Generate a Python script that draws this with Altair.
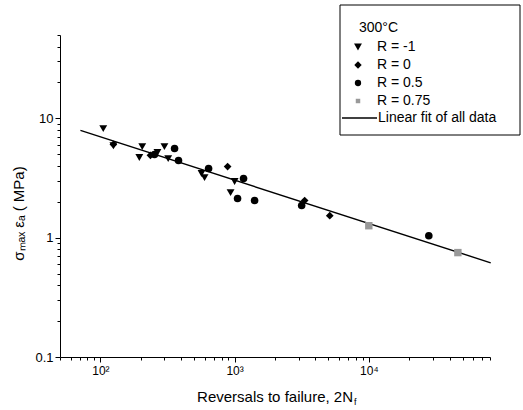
import altair as alt
import pandas as pd

# ---- data ----
series_names = ["R = -1", "R = 0", "R = 0.5", "R = 0.75"]
series_shapes = ["triangle-down", "diamond", "circle", "square"]
series_colors = ["#000000", "#000000", "#000000", "#999999"]
series_sizes = [62, 55, 40, 20]

r_m1_x = [105, 125, 195, 205, 266, 300, 320, 567, 597, 933, 1000]
r_m1_y = [8.2, 5.9, 4.7, 5.8, 5.18, 5.8, 4.6, 3.45, 3.19, 2.39, 2.96]
r_0_x = [125, 236, 887, 3326, 5117]
r_0_y = [6.05, 4.9, 3.95, 2.05, 1.53]
r_05_x = [253, 357, 382, 640, 1052, 1166, 1409, 3160, 28000]
r_05_y = [4.98, 5.6, 4.43, 3.8, 2.13, 3.13, 2.05, 1.86, 1.04]
r_075_x = [10000, 46100]
r_075_y = [1.26, 0.75]

fit_x = [71, 81000]
fit_y = [7.93, 0.616]

legend_title = "300\u00b0C"
fit_label = "Linear fit of all data"

x_ticks = [50, 60, 70, 80, 90, 100, 200, 300, 400, 500, 600, 700, 800, 900,
           1000, 2000, 3000, 4000, 5000, 6000, 7000, 8000, 9000,
           10000, 20000, 30000, 40000, 50000, 60000, 70000, 80000]
y_ticks = [0.1, 0.2, 0.3, 0.4, 0.5, 0.6, 0.7, 0.8, 0.9,
           1, 2, 3, 4, 5, 6, 7, 8, 9, 10, 20, 30, 40, 50]

FONT = "Liberation Sans"

rows = []
for name, xs, ys in zip(series_names, [r_m1_x, r_0_x, r_05_x, r_075_x],
                        [r_m1_y, r_0_y, r_05_y, r_075_y]):
    for a, b in zip(xs, ys):
        rows.append({"x": a, "y": b, "s": name})
pts = pd.DataFrame(rows)
fit = pd.DataFrame({"x": fit_x, "y": fit_y})

xscale = alt.Scale(type="log", domain=[50, 80000], nice=False)
yscale = alt.Scale(type="log", domain=[0.1, 50], nice=False)

xaxis = alt.Axis(
    values=x_ticks,
    labelExpr="datum.value == 100 ? '10\u00b2' : datum.value == 1000 ? '10\u00b3' : datum.value == 10000 ? '10\u2074' : ''",
    tickSize={"condition": {"test": "datum.value == 100 || datum.value == 1000 || datum.value == 10000", "value": 5}, "value": 3},
    labelOverlap=False, labelFontSize=12, labelPadding=3, title=None,
)
yaxis = alt.Axis(
    values=y_ticks,
    labelExpr="datum.value == 0.1 ? '0.1' : datum.value == 1 ? '1' : datum.value == 10 ? '10' : ''",
    tickSize={"condition": {"test": "datum.value == 0.1 || datum.value == 1 || datum.value == 10", "value": 5}, "value": 3},
    labelOverlap=False, labelFontSize=13, labelPadding=2,
    title="\u03c3\u2098\u2090\u2093 \u03b5\u2090 ( MPa)", titleFontSize=15, titleFontWeight="normal",
    titleX=-42, titleY=178, titleAngle=270, titleAlign="center", titleBaseline="middle",
)

points = alt.Chart(pts).mark_point(filled=True, opacity=1).encode(
    x=alt.X("x:Q", scale=xscale, axis=xaxis),
    y=alt.Y("y:Q", scale=yscale, axis=yaxis),
    shape=alt.Shape("s:N", scale=alt.Scale(domain=series_names, range=series_shapes), legend=None),
    color=alt.Color("s:N", scale=alt.Scale(domain=series_names, range=series_colors), legend=None),
    size=alt.Size("s:N", scale=alt.Scale(domain=series_names, range=series_sizes), legend=None),
)

line = alt.Chart(fit).mark_line(color="black", strokeWidth=1.4).encode(
    x=alt.X("x:Q", scale=xscale),
    y=alt.Y("y:Q", scale=yscale),
)

# x title with subscript
xt_main = alt.Chart(pd.DataFrame({"t": ["Reversals to failure, 2N"]})).mark_text(
    align="right", baseline="alphabetic", fontSize=15, font=FONT, color="black"
).encode(text="t:N", x=alt.value(293), y=alt.value(367))
xt_sub = alt.Chart(pd.DataFrame({"t": ["f"]})).mark_text(
    align="left", baseline="alphabetic", fontSize=9, font=FONT, color="black"
).encode(text="t:N", x=alt.value(294), y=alt.value(370))

# legend box
box = alt.Chart(pd.DataFrame({"a": [0]})).mark_rect(
    fill="white", stroke="black", strokeWidth=1
).encode(x=alt.value(280), x2=alt.value(460), y=alt.value(-30), y2=alt.value(100))

leg_layers = [box]
leg_layers.append(alt.Chart(pd.DataFrame({"t": [legend_title]})).mark_text(
    align="left", baseline="middle", fontSize=14, font=FONT, color="black"
).encode(text="t:N", x=alt.value(299), y=alt.value(-7)))
for i, (name, shp, col, sz) in enumerate(zip(series_names, series_shapes, series_colors, series_sizes)):
    yy = 12 + i * 18
    leg_layers.append(alt.Chart(pd.DataFrame({"t": [name]})).mark_point(
        filled=True, opacity=1, shape=shp, color=col, size=sz
    ).encode(x=alt.value(298), y=alt.value(yy)))
    leg_layers.append(alt.Chart(pd.DataFrame({"t": [name]})).mark_text(
        align="left", baseline="middle", fontSize=14, font=FONT, color="black"
    ).encode(text="t:N", x=alt.value(317), y=alt.value(yy)))
leg_layers.append(alt.Chart(pd.DataFrame({"t": [fit_label]})).mark_rule(
    color="black", strokeWidth=1.4
).encode(x=alt.value(282), x2=alt.value(317), y=alt.value(83)))
leg_layers.append(alt.Chart(pd.DataFrame({"t": [fit_label]})).mark_text(
    align="left", baseline="middle", fontSize=14, font=FONT, color="black"
).encode(text="t:N", x=alt.value(318), y=alt.value(83)))

chart = alt.layer(line, points, xt_main, xt_sub, *leg_layers).properties(
    width=430, height=322,
    autosize=alt.AutoSizeParams(type="none"),
    padding={"left": 60, "top": 35, "right": 33, "bottom": 53},
    background="white",
).configure_view(stroke=None).configure_axis(
    grid=False, domainColor="black", tickColor="black", labelColor="black",
    titleColor="black", labelFont=FONT, titleFont=FONT, domainWidth=1, tickWidth=1,
)

chart.save("out.html", embed_options={"renderer": "svg", "actions": False})
